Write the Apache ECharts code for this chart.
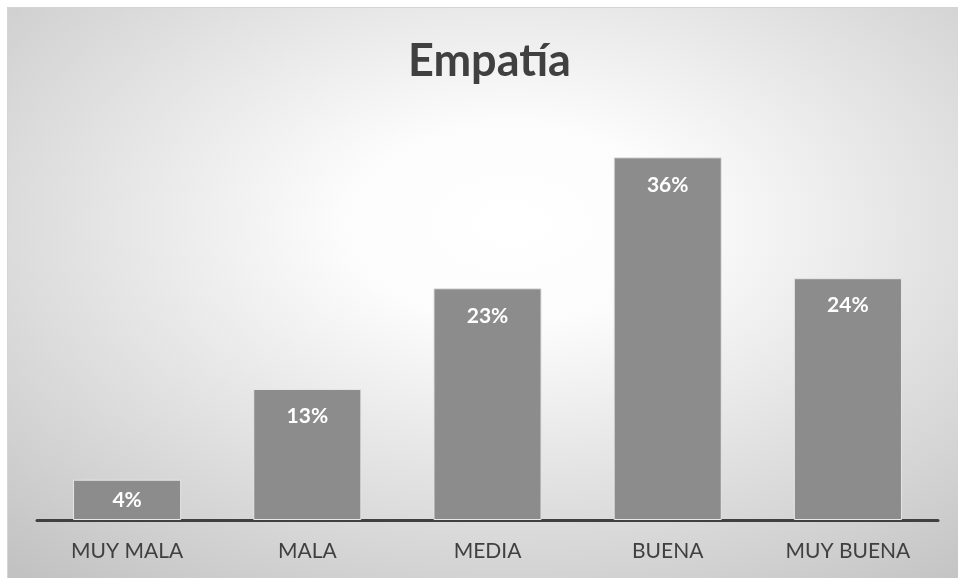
<!DOCTYPE html>
<html>
<head>
<meta charset="utf-8">
<style>
  html, body { margin: 0; padding: 0; background: #ffffff; }
  #chart { width: 958px; height: 578px; }
</style>
<script src="https://cdn.jsdelivr.net/npm/echarts@6/dist/echarts.min.js"></script>
</head>
<body>
<div id="chart"></div>
<script>
// Survey results for "Empatía" (percent of responses)
const categories = ['MUY MALA', 'MALA', 'MEDIA', 'BUENA', 'MUY BUENA'];
const values = [4, 13, 23, 36, 24];
const titleText = 'Empatía';

const FONT = 'Lato, "Open Sans", sans-serif';

// Bars too short for a label at the top get it centred instead
const barData = values.map(v => v < 8
  ? { value: v, label: { position: 'inside', distance: 0 } }
  : v);

const chart = echarts.init(document.getElementById('chart'), null, { renderer: 'canvas' });

// Panel: elliptical light-to-grey gradient, drawn in a square and stretched horizontally
const panelW = 951, panelH = 571;

chart.setOption({
  backgroundColor: '#ffffff',
  animation: false,
  graphic: [{
    type: 'rect',
    z: -10,
    silent: true,
    x: 7, y: 7,
    scaleX: panelW / panelH,
    shape: { x: 0, y: 0, width: panelH, height: panelH },
    style: {
      fill: {
        type: 'radial', x: 0.53, y: 0.38, r: 0.8,
        colorStops: [
          { offset: 0, color: '#ffffff' },
          { offset: 0.22, color: '#fcfcfc' },
          { offset: 1, color: '#c2c2c2' }
        ]
      }
    }
  }, {
    type: 'rect',
    z: -9,
    silent: true,
    shape: { x: 7.5, y: 7.5, width: 960, height: 580 },
    style: { fill: null, stroke: '#d4d4d4', lineWidth: 1 }
  }],
  title: {
    text: titleText,
    left: 403,
    top: 34,
    textStyle: {
      fontFamily: FONT,
      fontWeight: 'bold',
      fontSize: 45,
      color: '#404040'
    }
  },
  grid: { left: 37, right: 20, top: 117, bottom: 58, containLabel: false },
  xAxis: {
    type: 'category',
    data: categories,
    axisLine: { lineStyle: { color: '#404040', width: 3 } },
    axisTick: { show: false },
    axisLabel: {
      margin: 21,
      fontFamily: FONT,
      fontSize: 21,
      color: '#404040'
    }
  },
  yAxis: {
    type: 'value',
    min: 0,
    max: 40,
    show: false,
    splitLine: { show: false }
  },
  series: [{
    type: 'bar',
    data: barData,
    barWidth: '60%',
    itemStyle: { color: '#8c8c8c', borderColor: '#e6e6e6', borderWidth: 1 },
    label: {
      show: true,
      position: 'insideTop',
      distance: 17,
      formatter: '{c}%',
      fontFamily: FONT,
      fontWeight: 'bold',
      fontSize: 21,
      color: '#ffffff'
    }
  }]
});
</script>
</body>
</html>
